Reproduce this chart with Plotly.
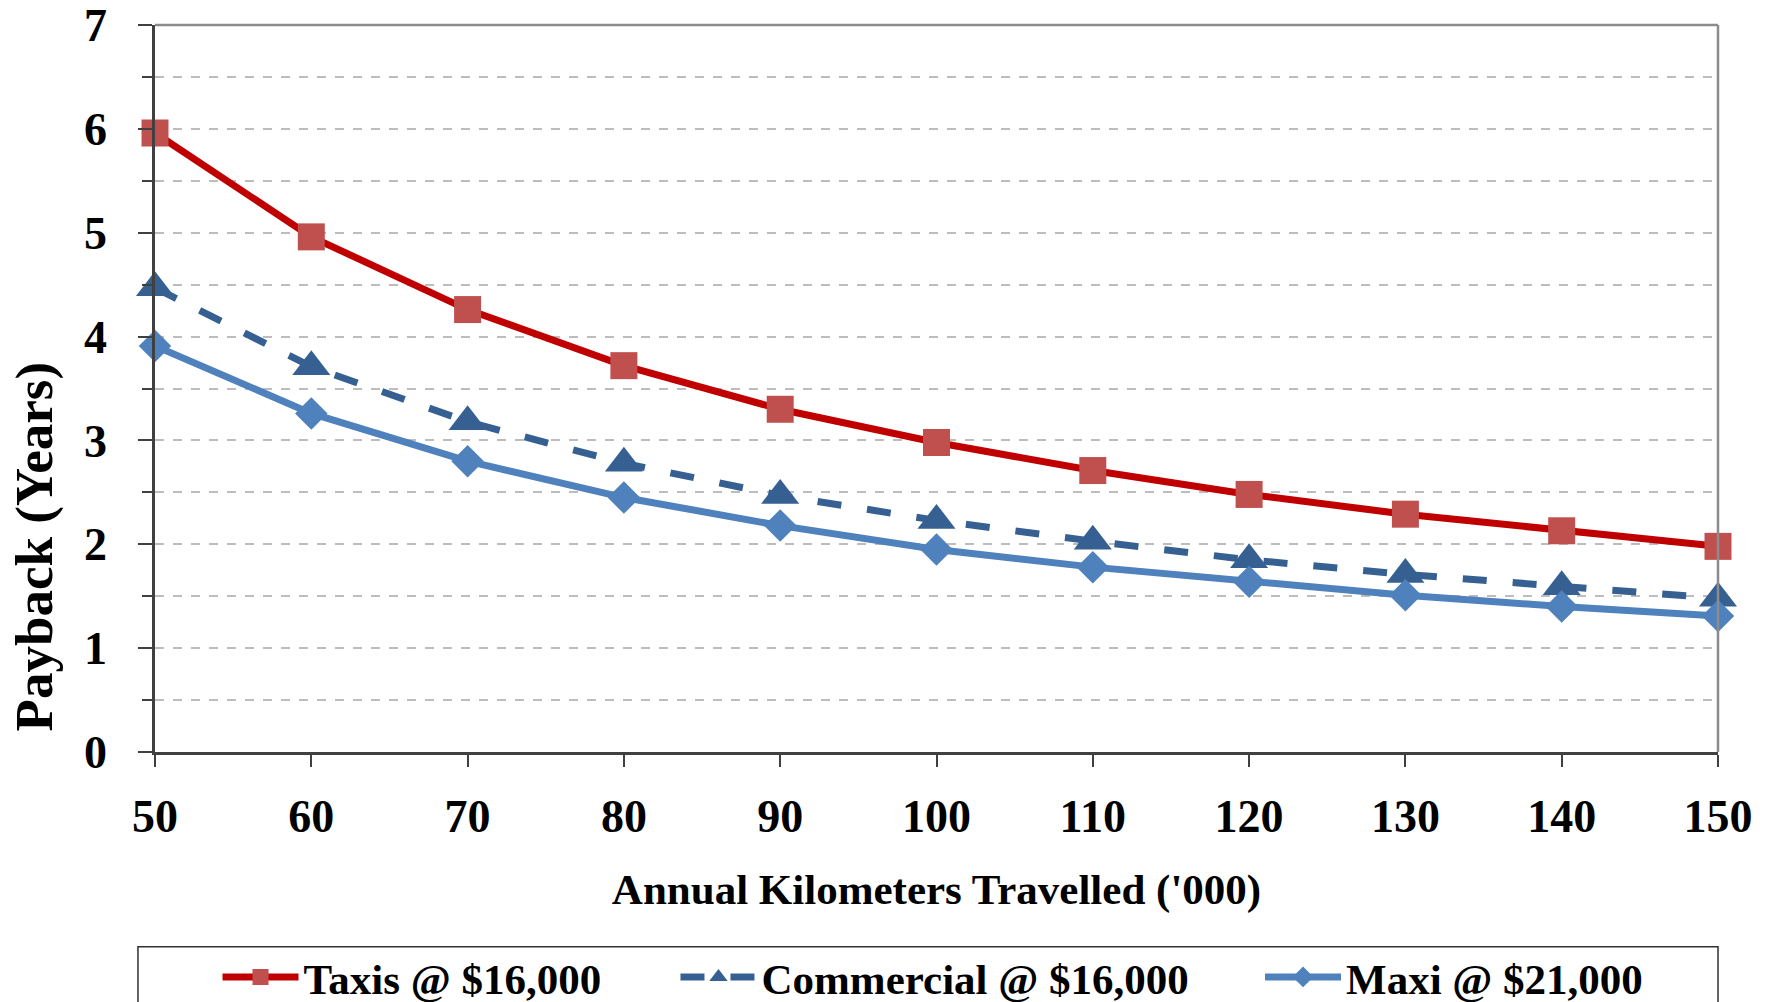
import plotly.graph_objects as go

km = [50, 60, 70, 80, 90, 100, 110, 120, 130, 140, 150]
taxis = [5.96, 4.96, 4.26, 3.72, 3.30, 2.98, 2.71, 2.48, 2.29, 2.13, 1.98]
commercial = [4.47, 3.71, 3.18, 2.78, 2.47, 2.23, 2.03, 1.85, 1.71, 1.59, 1.48]
maxi = [3.91, 3.26, 2.80, 2.45, 2.18, 1.95, 1.78, 1.64, 1.51, 1.40, 1.31]
names = ["Taxis @ $16,000", "Commercial @ $16,000", "Maxi @ $21,000"]
x_ticks = [50, 60, 70, 80, 90, 100, 110, 120, 130, 140, 150]
y_ticks = [0, 1, 2, 3, 4, 5, 6, 7]
x_title = "Annual Kilometers Travelled ('000)"
y_title = "Payback (Years)"

FONT = "Liberation Serif"
LEG_FONT = dict(family=FONT, size=43, weight="bold", color="black")

fig = go.Figure()
fig.add_trace(go.Scatter(
    x=km, y=taxis, name=names[0], mode="lines+markers", legend="legend",
    line=dict(color="#C00000", width=7),
    marker=dict(symbol="square", size=27, color="#C0504D"),
    cliponaxis=False))
fig.add_trace(go.Scatter(
    x=km, y=commercial, name=names[1], mode="lines+markers", legend="legend2",
    line=dict(color="#366092", width=7, dash="24px,26px"),
    marker=dict(symbol="triangle-up", size=33, color="#366092"),
    cliponaxis=False))
fig.add_trace(go.Scatter(
    x=km, y=maxi, name=names[2], mode="lines+markers", legend="legend3",
    line=dict(color="#4F81BD", width=7),
    marker=dict(symbol="diamond", size=25, color="#4F81BD"),
    cliponaxis=False))

leg_common = dict(orientation="h", y=-0.3095, yanchor="middle", xanchor="left",
                  itemwidth=76, font=LEG_FONT, bgcolor="rgba(0,0,0,0)",
                  borderwidth=0)

# the page body adds an 8px offset, so the figure is 8px smaller on each axis
fig.update_layout(
    width=1757, height=994,
    margin=dict(l=147, r=47, t=17, b=250, autoexpand=False),
    paper_bgcolor="white", plot_bgcolor="white",
    font=dict(family=FONT, size=43, color="black", weight="bold"),
    showlegend=True,
    legend=dict(x=0.040, **leg_common),
    legend2=dict(x=0.333, **leg_common),
    legend3=dict(x=0.707, **leg_common),
    shapes=[
        dict(type="line", xref="x domain", yref="y domain", x0=0, x1=1, y0=1, y1=1,
             line=dict(color="#8C8C8C", width=2.5)),
        dict(type="line", xref="x domain", yref="y domain", x0=1, x1=1, y0=0, y1=1,
             line=dict(color="#8C8C8C", width=2.5)),
        dict(type="rect", xref="paper", yref="paper", x0=-0.0109, x1=1.0, y0=-0.268, y1=-0.40,
             line=dict(color="#303030", width=1.5), fillcolor="rgba(0,0,0,0)"),
    ],
    annotations=[
        dict(text=y_title, xref="paper", yref="paper", x=-0.0765, y=0.282,
             textangle=-90, showarrow=False, xanchor="center", yanchor="middle",
             font=dict(family=FONT, size=53, weight="bold", color="black")),
    ],
)

fig.update_xaxes(
    range=[50, 150], tickvals=x_ticks, ticktext=[str(v) for v in x_ticks],
    automargin=False, ticklabeloverflow="allow",
    showline=True, linecolor="#404040", linewidth=2.5,
    ticks="outside", ticklen=12, tickcolor="#404040", tickwidth=1.5,
    showgrid=False, zeroline=False,
    ticklabelstandoff=10,
    tickfont=dict(family=FONT, size=46, weight="bold"),
    title=dict(text=x_title, standoff=33,
               font=dict(family=FONT, size=43, weight="bold")),
)
fig.update_yaxes(
    range=[0, 7], tickvals=y_ticks,
    automargin=False, ticklabeloverflow="allow",
    showline=True, linecolor="#404040", linewidth=2.5,
    ticks="outside", ticklen=14, tickcolor="#404040", tickwidth=1.5,
    showgrid=True, gridcolor="#BDBDBD", griddash="dash", gridwidth=1.5,
    zeroline=False,
    ticklabelstandoff=22,
    tickfont=dict(family=FONT, size=46, weight="bold"),
    minor=dict(dtick=0.5, ticks="outside", ticklen=10, tickcolor="#404040",
               showgrid=True, gridcolor="#BDBDBD", griddash="dash", gridwidth=1.5),
)

fig.write_html("out.html")
